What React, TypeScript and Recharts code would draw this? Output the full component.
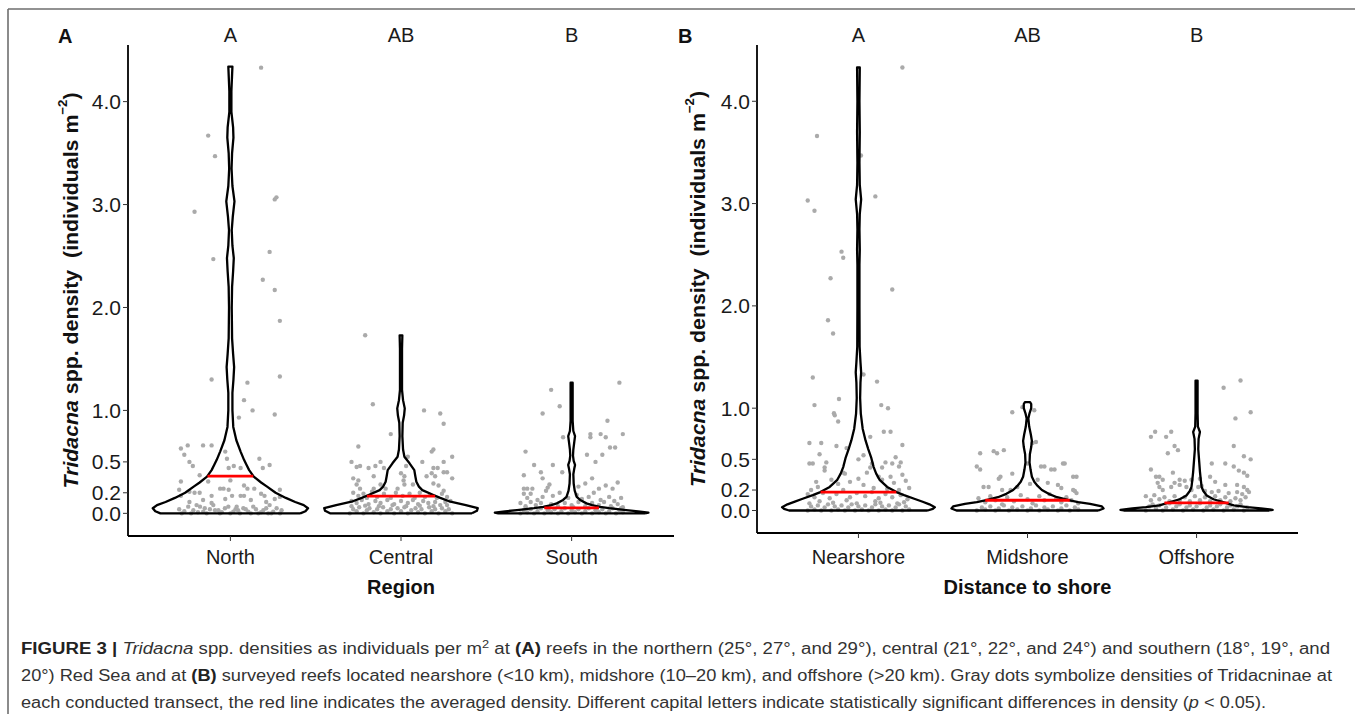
import React from "react";
import { ScatterChart, Scatter, XAxis, YAxis, ReferenceDot } from "recharts";

const FONT = '"Liberation Sans", Arial, Helvetica, sans-serif';

type Pair = [number, number];

const regionNames = ["North", "Central", "South"];
const shoreNames = ["Nearshore", "Midshore", "Offshore"];
const regionLetters = ["A", "AB", "B"];
const shoreLetters = ["A", "AB", "B"];
const yTicks = [0, 0.2, 0.5, 1, 2, 3, 4];
const Y_DOMAIN: [number, number] = [-0.22, 4.55];

// violin outlines: [density, half width in category units]
const northViolin: Pair[] = [
  [0, 0.41], [0.02, 0.44], [0.05, 0.455], [0.08, 0.43], [0.11, 0.38], [0.15, 0.325], [0.2, 0.265],
  [0.26, 0.215], [0.3, 0.18], [0.356, 0.137], [0.42, 0.11], [0.47, 0.095], [0.52, 0.08], [0.6, 0.06],
  [0.71, 0.035], [0.84, 0.017], [1.0, 0.012], [1.17, 0.012], [1.3, 0.018], [1.42, 0.022], [1.55, 0.016],
  [1.7, 0.01], [2.0, 0.008], [2.2, 0.01], [2.35, 0.016], [2.48, 0.02], [2.6, 0.012], [2.75, 0.008],
  [2.88, 0.014], [3.03, 0.024], [3.18, 0.012], [3.35, 0.007], [3.5, 0.01], [3.65, 0.018], [3.75, 0.016],
  [3.9, 0.006], [4.1, 0.006], [4.34, 0.012],
];
const centralViolin: Pair[] = [
  [0, 0.416], [0.025, 0.445], [0.05, 0.45], [0.08, 0.38], [0.113, 0.29], [0.15, 0.23], [0.178, 0.19],
  [0.226, 0.125], [0.26, 0.105], [0.307, 0.09], [0.36, 0.084], [0.42, 0.078], [0.486, 0.05], [0.55, 0.02],
  [0.62, 0.012], [0.75, 0.008], [0.88, 0.01], [0.95, 0.018], [1.02, 0.022], [1.1, 0.012], [1.2, 0.006],
  [1.4, 0.006], [1.6, 0.006], [1.73, 0.008],
];
const southViolin: Pair[] = [
  [0, 0.43], [0.008, 0.45], [0.02, 0.39], [0.032, 0.32], [0.05, 0.22], [0.064, 0.166], [0.08, 0.12],
  [0.097, 0.087], [0.13, 0.05], [0.16, 0.03], [0.22, 0.018], [0.29, 0.012], [0.38, 0.01], [0.43, 0.015],
  [0.47, 0.02], [0.51, 0.012], [0.56, 0.008], [0.62, 0.01], [0.7, 0.016], [0.75, 0.02], [0.8, 0.01],
  [0.9, 0.006], [1.05, 0.006], [1.27, 0.006],
];
const nearshoreViolin: Pair[] = [
  [0, 0.41], [0.015, 0.44], [0.032, 0.452], [0.06, 0.42], [0.085, 0.38], [0.115, 0.33], [0.15, 0.27],
  [0.18, 0.225], [0.23, 0.17], [0.3, 0.125], [0.36, 0.105], [0.424, 0.09], [0.52, 0.075], [0.6, 0.058],
  [0.685, 0.042], [0.8, 0.025], [0.947, 0.014], [1.1, 0.01], [1.25, 0.012], [1.35, 0.016], [1.45, 0.012],
  [1.6, 0.007], [2.0, 0.006], [2.4, 0.006], [2.55, 0.008], [2.75, 0.006], [2.9, 0.008], [3.04, 0.016],
  [3.18, 0.008], [3.4, 0.006], [3.7, 0.008], [4.0, 0.006], [4.33, 0.008],
];
const midshoreViolin: Pair[] = [
  [0, 0.42], [0.02, 0.45], [0.04, 0.44], [0.065, 0.37], [0.081, 0.3], [0.1, 0.25], [0.13, 0.175],
  [0.163, 0.125], [0.2, 0.085], [0.24, 0.06], [0.28, 0.04], [0.33, 0.026], [0.4, 0.018], [0.47, 0.012],
  [0.55, 0.014], [0.62, 0.022], [0.68, 0.026], [0.74, 0.02], [0.82, 0.01], [0.9, 0.005], [0.95, 0.012],
  [1.0, 0.022], [1.04, 0.022], [1.06, 0.015],
];
const offshoreViolin: Pair[] = [
  [0, 0.43], [0.007, 0.45], [0.02, 0.38], [0.032, 0.3], [0.05, 0.22], [0.07, 0.18], [0.082, 0.157],
  [0.11, 0.1], [0.147, 0.06], [0.19, 0.04], [0.23, 0.03], [0.3, 0.025], [0.38, 0.02], [0.49, 0.015],
  [0.6, 0.01], [0.7, 0.012], [0.767, 0.02], [0.82, 0.008], [0.95, 0.006], [1.1, 0.006], [1.27, 0.006],
];

// averaged density (red line) and its half width
const regionMeans = [0.362, 0.168, 0.054];
const regionMeanHalf = [0.134, 0.2, 0.16];
const shoreMeans = [0.18, 0.1, 0.075];
const shoreMeanHalf = [0.224, 0.25, 0.19];

// transect densities: [jitter, density]
const northPoints: Pair[] = [
  [0.18, 4.33], [-0.13, 3.67], [-0.09, 3.47], [0.26, 3.05], [0.27, 3.07], [-0.21, 2.93], [0.23, 2.54],
  [-0.1, 2.47], [0.19, 2.27], [0.26, 2.17], [0.29, 1.87], [0.29, 1.33], [-0.11, 1.3], [0.1, 1.27],
  [0.08, 1.1], [0.13, 1.0], [0.05, 0.93], [0.26, 0.96],
  [-0.29, 0.63], [-0.25, 0.66], [-0.16, 0.66], [-0.11, 0.66], [-0.03, 0.6], [-0.27, 0.57], [-0.24, 0.5],
  [-0.22, 0.46], [-0.02, 0.53], [0.02, 0.46], [-0.01, 0.44], [0.06, 0.44], [0.17, 0.53], [0.19, 0.44],
  [0.23, 0.47], [-0.18, 0.37], [-0.13, 0.31], [-0.29, 0.31], [0, 0.32], [-0.06, 0.24], [-0.04, 0.24],
  [-0.01, 0.23], [0.08, 0.27], [0.1, 0.24], [0.14, 0.24], [0.29, 0.23], [-0.3, 0.23], [-0.21, 0.2],
  [-0.18, 0.2], [-0.24, 0.21], [-0.29, 0.17], [-0.11, 0.17], [0.06, 0.17], [0.08, 0.17], [0.18, 0.19],
  [0.2, 0.17], [0.26, 0.14], [0.29, 0.16], [-0.16, 0.13], [-0.11, 0.1], [-0.03, 0.14], [0.01, 0.17],
  [-0.24, 0.11], [0.12, 0.13], [0.21, 0.11], [0.23, 0.08],
  [-0.285, 0], [-0.247, 0.065], [-0.217, 0.03], [-0.198, 0.08], [-0.178, 0.065], [-0.159, 0.016],
  [-0.139, 0], [-0.1, 0.08], [-0.09, 0.03], [-0.061, 0], [-0.032, 0.05], [-0.012, 0.065], [0.017, 0.016],
  [0.037, 0.065], [0.056, 0], [0.076, 0.05], [0.105, 0.016], [0.134, 0.065], [0.164, 0], [0.193, 0.03],
  [0.222, 0], [0.251, 0.016], [0.271, 0.05], [0.291, 0], [-0.27, 0.02], [-0.23, 0], [-0.19, 0.01],
  [-0.12, 0.04], [-0.05, 0.01], [0.0, 0], [0.045, 0.03], [0.09, 0.04], [0.12, 0], [0.15, 0.04],
  [0.18, 0.01], [0.21, 0.05], [0.24, 0], [0.3, 0.03], [-0.3, 0.04], [-0.15, 0.05], [-0.07, 0.03], [0.03, 0.04],
];
const centralPoints: Pair[] = [
  [-0.21, 1.73], [-0.165, 1.06], [0.135, 1.0], [0.23, 0.97], [0.25, 0.87], [-0.06, 0.77], [-0.25, 0.65],
  [0.18, 0.6], [0.3, 0.55], [0.04, 0.55], [0.19, 0.62],
  [-0.29, 0.5], [-0.26, 0.45], [-0.24, 0.46], [-0.19, 0.44], [-0.15, 0.46], [-0.12, 0.5], [-0.1, 0.44],
  [-0.28, 0.34], [-0.25, 0.32], [-0.26, 0.28], [-0.16, 0.36], [-0.12, 0.28], [-0.24, 0.24], [-0.16, 0.24],
  [-0.09, 0.24], [0, 0.39], [-0.02, 0.24], [0.015, 0.32], [0.25, 0.5], [0.125, 0.5], [0.03, 0.46],
  [0.19, 0.44], [0.215, 0.44], [0.25, 0.4], [0.27, 0.4], [0.18, 0.39], [0.15, 0.36], [0.2, 0.36],
  [0.3, 0.34], [0.02, 0.36], [0.02, 0.28], [0.07, 0.28], [0.19, 0.29], [0.22, 0.27], [0.25, 0.22],
  [-0.28, 0.2], [-0.25, 0.17], [-0.22, 0.19], [-0.2, 0.15], [-0.17, 0.21], [-0.14, 0.16], [-0.1, 0.19],
  [-0.06, 0.15], [-0.03, 0.2], [0.01, 0.17], [0.05, 0.19], [0.08, 0.15], [0.11, 0.2], [0.14, 0.16],
  [0.17, 0.18], [0.21, 0.15], [0.24, 0.19], [0.27, 0.16], [0.29, 0.12], [-0.29, 0.12], [-0.26, 0.1],
  [-0.23, 0.13], [-0.19, 0.09], [-0.15, 0.12], [-0.12, 0.1], [-0.08, 0.13], [-0.04, 0.09], [0, 0.12],
  [0.04, 0.1], [0.07, 0.13], [0.1, 0.09], [0.13, 0.12], [0.16, 0.1], [0.2, 0.11], [0.23, 0.08], [0.26, 0.11],
  [-0.3, 0], [-0.28, 0.04], [-0.26, 0.02], [-0.245, 0.06], [-0.22, 0], [-0.2, 0.03], [-0.185, 0.05],
  [-0.16, 0.01], [-0.14, 0.04], [-0.12, 0], [-0.105, 0.06], [-0.08, 0.02], [-0.06, 0.04], [-0.04, 0],
  [-0.02, 0.05], [0, 0.02], [0.02, 0.06], [0.04, 0], [0.06, 0.03], [0.085, 0.05], [0.1, 0.01],
  [0.12, 0.04], [0.14, 0], [0.165, 0.06], [0.18, 0.02], [0.2, 0.04], [0.22, 0], [0.24, 0.05],
  [0.26, 0.02], [0.28, 0.04], [0.3, 0], [-0.29, 0.07], [-0.21, 0.075], [-0.13, 0.07], [-0.05, 0.08],
  [0.03, 0.07], [0.11, 0.075], [0.19, 0.07], [0.27, 0.08],
];
const southPoints: Pair[] = [
  [0.28, 1.27], [-0.12, 1.2], [-0.07, 1.04], [-0.17, 0.97], [0.21, 0.9], [0.11, 0.77], [0.11, 0.74],
  [0.17, 0.77], [0.2, 0.74], [0.3, 0.77], [-0.05, 0.74], [0.225, 0.64], [0.255, 0.64], [-0.27, 0.6],
  [0.09, 0.57], [0.18, 0.57], [0.14, 0.5], [-0.22, 0.47], [-0.11, 0.47], [-0.18, 0.4], [-0.055, 0.4],
  [-0.28, 0.37], [-0.17, 0.34], [0.12, 0.34], [0.27, 0.3], [0.24, 0.24], [0.2, 0.27], [0.16, 0.24],
  [0.08, 0.29], [0.04, 0.26],
  [-0.14, 0.25], [-0.13, 0.28], [-0.15, 0.22], [-0.28, 0.24], [-0.26, 0.24], [-0.23, 0.24], [-0.28, 0.19],
  [-0.24, 0.19], [-0.26, 0.15], [-0.2, 0.13], [-0.17, 0.16], [-0.11, 0.17], [-0.07, 0.2], [-0.02, 0.15],
  [0.03, 0.18], [0.06, 0.14], [0.1, 0.16], [0.13, 0.2], [0.17, 0.13], [0.22, 0.16], [0.25, 0.12], [0.29, 0.15],
  [-0.3, 0.1], [-0.27, 0.07], [-0.24, 0.11], [-0.21, 0.08], [-0.18, 0.1], [-0.15, 0.06], [-0.12, 0.09],
  [-0.08, 0.07], [-0.04, 0.1], [0.0, 0.08], [0.04, 0.11], [0.08, 0.07], [0.12, 0.1], [0.16, 0.08],
  [0.19, 0.11], [0.23, 0.07], [0.27, 0.09], [0.3, 0.06],
  [-0.3, 0], [-0.28, 0.03], [-0.26, 0.01], [-0.24, 0.04], [-0.22, 0], [-0.2, 0.02], [-0.18, 0.05],
  [-0.16, 0], [-0.14, 0.03], [-0.12, 0.01], [-0.1, 0.04], [-0.08, 0], [-0.06, 0.02], [-0.04, 0.05],
  [-0.02, 0], [0, 0.03], [0.02, 0.01], [0.04, 0.04], [0.06, 0], [0.08, 0.02], [0.1, 0.05], [0.12, 0],
  [0.14, 0.03], [0.16, 0.01], [0.18, 0.04], [0.2, 0], [0.22, 0.02], [0.24, 0.05], [0.26, 0], [0.28, 0.03],
  [0.3, 0.01], [-0.27, 0.05], [-0.13, 0.055], [0.01, 0.06], [0.15, 0.055], [0.29, 0.05],
];
const nearshorePoints: Pair[] = [
  [0.26, 4.33], [-0.245, 3.66], [0.015, 3.47], [0.1, 3.07], [-0.3, 3.03], [-0.26, 2.93], [-0.1, 2.53],
  [-0.09, 2.47], [-0.165, 2.27], [0.2, 2.16], [-0.18, 1.86], [-0.15, 1.73], [0.03, 1.33], [-0.27, 1.3],
  [0.11, 1.26], [-0.115, 1.09], [-0.26, 1.03], [0.135, 1.03], [0.175, 1.0], [-0.145, 0.95], [-0.14, 0.93],
  [-0.12, 0.87], [0.15, 0.77], [0.19, 0.77], [0.07, 0.72], [-0.29, 0.66], [-0.22, 0.66], [0.26, 0.64],
  [-0.13, 0.63], [-0.07, 0.61], [-0.23, 0.55], [0, 0.5], [0.03, 0.54], [0.08, 0.46], [-0.29, 0.46],
  [-0.27, 0.46], [-0.2, 0.42], [-0.2, 0.39], [-0.19, 0.47], [0.2, 0.46], [0.22, 0.52], [0.25, 0.47],
  [0.24, 0.43], [0.14, 0.42], [0.16, 0.47], [0.05, 0.37], [0.07, 0.42], [-0.09, 0.37], [-0.08, 0.36],
  [0.0, 0.31], [0.12, 0.33], [0.14, 0.3], [0.19, 0.33], [0.21, 0.27], [0.28, 0.29], [0.26, 0.35],
  [-0.28, 0.2], [-0.24, 0.23], [-0.25, 0.28], [-0.16, 0.3], [-0.12, 0.26], [-0.05, 0.28], [0.03, 0.25],
  [0.09, 0.22], [0.17, 0.21], [0.24, 0.2], [0.3, 0.22], [-0.3, 0.16], [-0.26, 0.13], [-0.21, 0.17],
  [-0.17, 0.12], [-0.13, 0.16], [-0.09, 0.2], [-0.05, 0.13], [-0.01, 0.17], [0.04, 0.14], [0.08, 0.18],
  [0.12, 0.12], [0.16, 0.16], [0.2, 0.13], [0.25, 0.15], [0.29, 0.11], [-0.23, 0.09], [-0.07, 0.1],
  [0.1, 0.09], [0.27, 0.08],
  [-0.3, 0], [-0.28, 0.04], [-0.26, 0.01], [-0.24, 0.05], [-0.22, 0], [-0.2, 0.03], [-0.18, 0.06],
  [-0.16, 0], [-0.14, 0.04], [-0.12, 0.01], [-0.1, 0.05], [-0.08, 0], [-0.06, 0.03], [-0.04, 0.06],
  [-0.02, 0], [0, 0.04], [0.02, 0.01], [0.04, 0.05], [0.06, 0], [0.08, 0.03], [0.1, 0.06], [0.12, 0],
  [0.14, 0.04], [0.16, 0.01], [0.18, 0.05], [0.2, 0], [0.22, 0.03], [0.24, 0.06], [0.26, 0],
  [0.28, 0.04], [0.3, 0.01], [-0.29, 0.07], [-0.15, 0.075], [-0.01, 0.07], [0.13, 0.075], [0.23, 0.07],
];
const midshorePoints: Pair[] = [
  [-0.09, 0.96], [-0.03, 1.01], [0.04, 0.98], [0.03, 0.66], [0.05, 0.67], [-0.28, 0.56], [-0.2, 0.58],
  [-0.18, 0.56], [-0.14, 0.59], [-0.3, 0.43], [-0.28, 0.4], [-0.09, 0.36], [0, 0.46], [0.08, 0.43],
  [0.1, 0.43], [0.14, 0.4], [0.16, 0.4], [0.21, 0.46], [0.22, 0.46], [0.27, 0.33], [0.29, 0.33],
  [0.27, 0.2], [0.29, 0.17], [0.28, 0.19], [-0.17, 0.31], [-0.16, 0.33], [-0.26, 0.23], [-0.23, 0.23],
  [-0.15, 0.2], [-0.1, 0.2], [-0.06, 0.23], [0.015, 0.26], [0.06, 0.3], [0.12, 0.27], [0.18, 0.25], [0.2, 0.22],
  [-0.29, 0.12], [-0.25, 0.08], [-0.22, 0.14], [-0.19, 0.1], [-0.15, 0.06], [-0.12, 0.13], [-0.08, 0.09],
  [-0.04, 0.15], [0, 0.11], [0.03, 0.07], [0.07, 0.14], [0.1, 0.1], [0.13, 0.16], [0.17, 0.12],
  [0.2, 0.08], [0.23, 0.13], [0.26, 0.1], [0.3, 0.07],
  [-0.3, 0], [-0.27, 0.03], [-0.25, 0.01], [-0.22, 0.04], [-0.19, 0], [-0.17, 0.02], [-0.14, 0.05],
  [-0.11, 0], [-0.09, 0.03], [-0.06, 0.01], [-0.03, 0.04], [0, 0], [0.02, 0.02], [0.05, 0.05],
  [0.07, 0], [0.1, 0.03], [0.12, 0.01], [0.15, 0.04], [0.18, 0], [0.2, 0.02], [0.23, 0.05], [0.25, 0],
  [0.28, 0.03], [0.3, 0.01],
];
const offshorePoints: Pair[] = [
  [0.26, 1.27], [0.16, 1.2], [0.32, 0.96], [0.23, 0.9], [-0.27, 0.72], [-0.245, 0.77], [-0.18, 0.72],
  [-0.15, 0.77], [-0.13, 0.63], [-0.11, 0.59], [-0.17, 0.56], [0.22, 0.63], [0.28, 0.53], [0.32, 0.5],
  [0.09, 0.46], [0.17, 0.46], [-0.27, 0.4], [-0.14, 0.37], [0.22, 0.43], [0.25, 0.39], [0.28, 0.37], [0.3, 0.34],
  [-0.24, 0.33], [-0.22, 0.33], [-0.2, 0.3], [-0.1, 0.3], [-0.07, 0.29], [-0.03, 0.3], [0.02, 0.31],
  [0.08, 0.33], [0.11, 0.28], [0.17, 0.25], [0.24, 0.25], [0.28, 0.23], [-0.23, 0.27], [-0.22, 0.23],
  [-0.2, 0.2], [-0.15, 0.23], [-0.13, 0.27], [-0.1, 0.25], [-0.06, 0.23], [-0.03, 0.2], [0.01, 0.23],
  [0.03, 0.24], [0.05, 0.19], [0.09, 0.18], [0.13, 0.19], [0.19, 0.17], [0.24, 0.18], [0.27, 0.16],
  [0.3, 0.2], [0.31, 0.18],
  [-0.3, 0.14], [-0.27, 0.1], [-0.25, 0.15], [-0.22, 0.11], [-0.19, 0.13], [-0.16, 0.09], [-0.13, 0.14],
  [-0.1, 0.1], [-0.07, 0.13], [-0.04, 0.09], [-0.01, 0.14], [0.02, 0.1], [0.05, 0.13], [0.08, 0.09],
  [0.11, 0.14], [0.14, 0.1], [0.17, 0.13], [0.2, 0.09], [0.23, 0.12], [0.26, 0.1], [0.29, 0.13],
  [-0.3, 0], [-0.28, 0.04], [-0.26, 0.06], [-0.24, 0.02], [-0.22, 0.05], [-0.2, 0], [-0.18, 0.03],
  [-0.16, 0.07], [-0.14, 0.01], [-0.12, 0.04], [-0.1, 0.06], [-0.08, 0], [-0.06, 0.03], [-0.04, 0.05],
  [-0.02, 0.01], [0, 0.04], [0.02, 0.07], [0.04, 0], [0.06, 0.03], [0.08, 0.05], [0.1, 0.01],
  [0.12, 0.04], [0.14, 0.06], [0.16, 0], [0.18, 0.03], [0.2, 0.05], [0.22, 0.01], [0.24, 0.04],
  [0.26, 0.06], [0.28, 0], [0.3, 0.03],
];

const GrayDot = (p: any) => <circle cx={p.cx} cy={p.cy} r={2.2} fill="#aaaaaa" />;
const NoDot = () => <g />;

const outline = (prof: Pair[], c: number) => {
  const right = prof.map(([v, w]) => ({ x: c + w, y: v }));
  const left = [...prof].reverse().map(([v, w]) => ({ x: c - w, y: v }));
  return [...right, ...left, right[0]];
};

interface PanelProps {
  names: string[];
  letters: string[];
  violins: Pair[][];
  points: Pair[][];
  means: number[];
  meanHalf: number[];
  width: number;
  tickGap: number;
  margin: { top: number; right: number; bottom: number; left: number };
}

const Panel = ({ names, letters, violins, points, means, meanHalf, width, tickGap, margin }: PanelProps) => {
  const dots = points.flatMap((grp, i) => grp.map(([j, v]) => ({ x: i + 1 + j, y: v })));
  return (
    <ScatterChart width={width} height={620} margin={margin}>
      <XAxis
        type="number"
        dataKey="x"
        domain={[0.4, 3.6]}
        allowDataOverflow
        ticks={[1, 2, 3]}
        interval={0}
        tickFormatter={(v) => names[Math.round(v) - 1]}
        height={55}
        tickSize={5}
        tickMargin={tickGap}
        axisLine={{ stroke: "#000", strokeWidth: 1.8 }}
        tickLine={{ stroke: "#333" }}
        tick={{ fontSize: 20, fill: "#1a1a1a", fontFamily: FONT }}
      />
      <YAxis
        type="number"
        dataKey="y"
        domain={Y_DOMAIN}
        allowDataOverflow
        ticks={yTicks}
        interval={0}
        width={60}
        tickFormatter={(v) => v.toFixed(1)}
        tickSize={5}
        tickMargin={2}
        axisLine={{ stroke: "#000", strokeWidth: 1.8 }}
        tickLine={{ stroke: "#333" }}
        tick={{ fontSize: 21, fill: "#1a1a1a", fontFamily: FONT }}
      />
      <Scatter data={dots} shape={GrayDot} isAnimationActive={false} />
      {violins.map((prof, i) => (
        <Scatter
          key={"v" + i}
          data={outline(prof, i + 1)}
          shape={NoDot}
          line={{ stroke: "#000", strokeWidth: 2.3, fill: "none", strokeLinejoin: "round" }}
          isAnimationActive={false}
        />
      ))}
      {means.map((m, i) => (
        <Scatter
          key={"m" + i}
          data={[{ x: i + 1 - meanHalf[i], y: m }, { x: i + 1 + meanHalf[i], y: m }]}
          shape={NoDot}
          line={{ stroke: "#ff0000", strokeWidth: 2.8, fill: "none" }}
          isAnimationActive={false}
        />
      ))}
      {letters.map((l, i) => (
        <ReferenceDot
          key={"l" + i}
          x={i + 1}
          y={Y_DOMAIN[1]}
          r={0}
          fill="none"
          stroke="none"
          label={{ value: l, position: "top", offset: 3, fontSize: 20, fill: "#1a1a1a", fontFamily: FONT }}
        />
      ))}
    </ScatterChart>
  );
};

const YTitle = ({ x, y }: { x: number; y: number }) => (
  <text
    transform={`translate(${x},${y}) rotate(-90)`}
    textAnchor="middle"
    dominantBaseline="central"
    fontWeight="bold"
    fontSize={21}
    fill="#111"
    textLength={396}
    lengthAdjust="spacingAndGlyphs"
  >
    <tspan fontStyle="italic">Tridacna</tspan>
    <tspan> spp. density{"\u00a0\u00a0"}(individuals m</tspan>
    <tspan fontSize={13} dy={-8}>−2</tspan>
    <tspan dy={8}>)</tspan>
  </text>
);

const App = () => {
  return (
    <div style={{ position: "absolute", left: 0, top: 0, width: 1355, height: 714, background: "#fff", fontFamily: FONT }}>
      <div style={{ position: "absolute", left: 0, top: 0 }}>
        <Panel
          names={regionNames}
          letters={regionLetters}
          violins={[northViolin, centralViolin, southViolin]}
          points={[northPoints, centralPoints, southPoints]}
          means={regionMeans}
          meanHalf={regionMeanHalf}
          width={690}
          tickGap={9}
          margin={{ top: 45, right: 16, bottom: 29, left: 68 }}
        />
      </div>
      <div style={{ position: "absolute", left: 690, top: 0 }}>
        <Panel
          names={shoreNames}
          letters={shoreLetters}
          violins={[nearshoreViolin, midshoreViolin, offshoreViolin]}
          points={[nearshorePoints, midshorePoints, offshorePoints]}
          means={shoreMeans}
          meanHalf={shoreMeanHalf}
          width={620}
          tickGap={12}
          margin={{ top: 45, right: 12, bottom: 32, left: 7 }}
        />
      </div>
      <svg width={1355} height={714} style={{ position: "absolute", left: 0, top: 0, pointerEvents: "none" }}>
        <line x1={8} y1={9} x2={1355} y2={9} stroke="#6e6e6e" strokeWidth={1.6} />
        <line x1={8} y1={9} x2={8} y2={714} stroke="#6e6e6e" strokeWidth={1.6} />
        <text x={58} y={43} fontSize={20} fontWeight="bold" fill="#111">A</text>
        <text x={678} y={43} fontSize={20} fontWeight="bold" fill="#111">B</text>
        <YTitle x={70} y={290.5} />
        <YTitle x={697} y={289} />
        <text x={401} y={594} fontSize={20} fontWeight="bold" textAnchor="middle" fill="#111">Region</text>
        <text x={1027.5} y={594} fontSize={20} fontWeight="bold" textAnchor="middle" fill="#111">Distance to shore</text>
        <g fontSize={16} fill="#333">
          <text x={21} y={654} textLength={1309} lengthAdjust="spacingAndGlyphs">
            <tspan fontWeight="bold" fill="#222">FIGURE 3 | </tspan>
            <tspan fontStyle="italic">Tridacna</tspan>
            <tspan> spp. densities as individuals per m</tspan>
            <tspan fontSize={11} dy={-6}>2</tspan>
            <tspan dy={6}> at </tspan>
            <tspan fontWeight="bold" fill="#222">(A)</tspan>
            <tspan> reefs in the northern (25°, 27°, and 29°), central (21°, 22°, and 24°) and southern (18°, 19°, and</tspan>
          </text>
          <text x={21} y={681} textLength={1311} lengthAdjust="spacingAndGlyphs">
            <tspan>20°) Red Sea and at </tspan>
            <tspan fontWeight="bold" fill="#222">(B)</tspan>
            <tspan> surveyed reefs located nearshore (&lt;10 km), midshore (10–20 km), and offshore (&gt;20 km). Gray dots symbolize densities of Tridacninae at</tspan>
          </text>
          <text x={21} y={708} textLength={1245} lengthAdjust="spacingAndGlyphs">
            <tspan>each conducted transect, the red line indicates the averaged density. Different capital letters indicate statistically significant differences in density (</tspan>
            <tspan fontStyle="italic">p</tspan>
            <tspan> &lt; 0.05).</tspan>
          </text>
        </g>
      </svg>
    </div>
  );
};

export default App;
